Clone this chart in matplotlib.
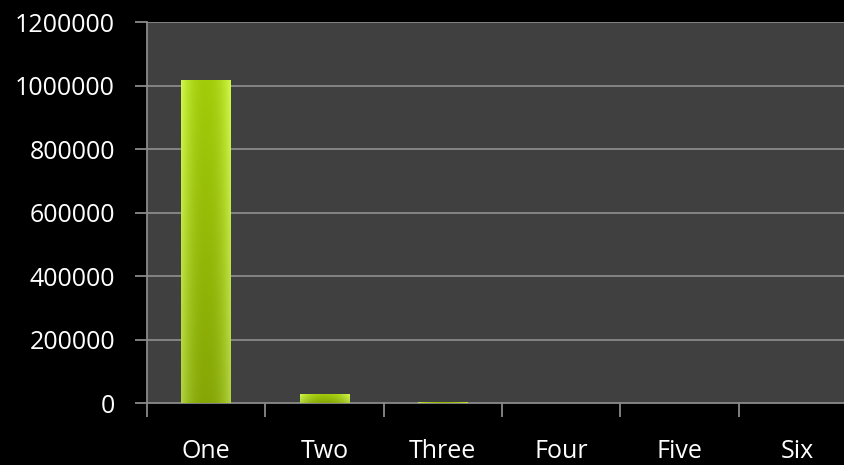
import numpy as np
import matplotlib.pyplot as plt
from matplotlib.colors import to_rgb

categories = ['One', 'Two', 'Three', 'Four', 'Five', 'Six']
values = [1017000, 28000, 2500, 0, 0, 0]
yticks = [0, 200000, 400000, 600000, 800000, 1000000, 1200000]

plt.rcParams['font.family'] = ['Open Sans', 'DejaVu Sans']

fig = plt.figure(figsize=(8.45, 4.65), dpi=100, facecolor='black')
# plot area runs a little past the right edge of the image
ax = fig.add_axes([147/845, 1-403/465, 710/845, 381/465])
ax.set_facecolor('#404040')

x = np.arange(len(categories))
grid_col = '#8a8a8a'
for t in yticks[1:]:
    ax.axhline(t, color=grid_col, lw=1.3, zorder=1)

# gradient fill: bright at the sides, darker in the middle and towards the base
edge = np.array(to_rgb('#d0f84a'))
mid = np.array(to_rgb('#a2cc0a'))
low = np.array(to_rgb('#86a606'))
u = np.linspace(-1, 1, 60)
h = np.abs(u) ** 2.2
vv = np.linspace(0, 1, 80)[:, None, None]
img = (mid * (1 - h[None, :, None]) + edge * h[None, :, None]) * vv + \
      (low * (1 - h[None, :, None]) + edge * 0.85 * h[None, :, None]) * (1 - vv)
img = np.clip(img, 0, 1)

bars = ax.bar(x, values, width=0.42, color='#a6d010', zorder=2, linewidth=0)
for b in bars:
    if b.get_height() <= 0:
        continue
    x0, w, hgt = b.get_x(), b.get_width(), b.get_height()
    im = ax.imshow(img, extent=[x0, x0 + w, 0, hgt], origin='lower',
                   aspect='auto', zorder=3, interpolation='bilinear')
    im.set_clip_path(b)

ax.set_xlim(-0.5, len(categories) - 0.5)
ax.set_ylim(0, 1200000)
ax.set_yticks(yticks)
ax.set_yticklabels([str(t) for t in yticks], color='white', fontsize=18)
ax.set_xticks(x)
ax.set_xticklabels(categories, color='white', fontsize=18)
ax.set_xticks(np.arange(len(categories)) - 0.5, minor=True)
ax.tick_params(axis='x', which='major', length=0, pad=26)
ax.tick_params(axis='x', which='minor', length=10, width=1.3, color=grid_col, direction='out')
ax.tick_params(axis='y', length=9, width=1.3, color=grid_col, direction='out', pad=14)

for s in ['top', 'right']:
    ax.spines[s].set_visible(False)
for s in ['left', 'bottom']:
    ax.spines[s].set_color(grid_col)
    ax.spines[s].set_linewidth(1.3)

fig.savefig('out.png', dpi=100, facecolor='black')
